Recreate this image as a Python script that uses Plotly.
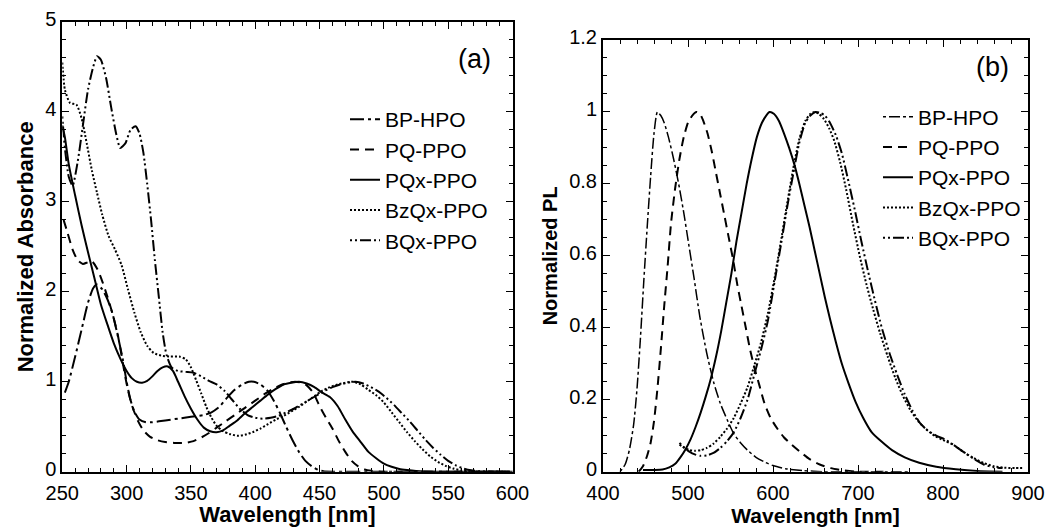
import plotly.graph_objects as go

# ---------------- Panel (a): absorbance ----------------
names = ["BP-HPO", "PQ-PPO", "PQx-PPO", "BzQx-PPO", "BQx-PPO"]

bp_a_x = [252, 255, 260, 265, 270, 274, 277, 281, 285, 289, 293, 297, 300, 303, 306, 310, 315, 320, 330, 340,
          350, 360, 366, 372, 378, 384, 390, 395, 399, 404, 409, 414, 419, 424, 429, 434, 439, 444, 449, 453,
          460, 500, 600]
bp_a_y = [0.88, 1.0, 1.28, 1.58, 1.88, 2.04, 2.08, 2.03, 1.92, 1.76, 1.52, 1.25, 1.0, 0.8, 0.67, 0.58, 0.55,
          0.55, 0.57, 0.59, 0.61, 0.63, 0.66, 0.72, 0.82, 0.91, 0.97, 1.0, 1.0, 0.97, 0.91, 0.8, 0.66, 0.5,
          0.35, 0.22, 0.12, 0.06, 0.02, 0.005, 0.0, 0.0, 0.0]

pq_a_x = [251, 254, 258, 262, 266, 270, 273, 277, 281, 285, 289, 293, 296, 299, 302, 305, 309, 313, 318, 324,
          330, 337, 345, 352, 358, 364, 370, 377, 384, 392, 400, 408, 415, 421, 426, 431, 436, 440, 445, 450,
          455, 460, 465, 470, 475, 480, 485, 490, 500, 550, 600]
pq_a_y = [2.8, 2.66, 2.47, 2.35, 2.31, 2.33, 2.34, 2.26, 2.12, 1.95, 1.76, 1.53, 1.3, 1.05, 0.85, 0.7, 0.56,
          0.46, 0.39, 0.35, 0.33, 0.32, 0.32, 0.34, 0.38, 0.43, 0.49, 0.56, 0.63, 0.71, 0.79, 0.87, 0.93, 0.97,
          0.99, 1.0, 0.99, 0.96, 0.88, 0.73, 0.6, 0.48, 0.34, 0.22, 0.12, 0.06, 0.025, 0.01, 0.0, 0.0, 0.0]

pqx_a_x = [250, 252, 255, 260, 265, 270, 275, 280, 285, 290, 295, 300, 304, 308, 312, 316, 320, 324, 328, 332,
           336, 340, 345, 350, 355, 360, 365, 370, 375, 380, 386, 392, 398, 404, 410, 416, 422, 428, 434, 440,
           446, 452, 458, 464, 470, 476, 482, 488, 494, 500, 506, 512, 518, 525, 540, 600]
pqx_a_y = [3.85, 3.72, 3.42, 3.07, 2.74, 2.44, 2.15, 1.86, 1.64, 1.43, 1.26, 1.12, 1.04, 1.0, 0.99, 1.01, 1.06,
           1.12, 1.16, 1.17, 1.12, 1.0, 0.84, 0.7, 0.58, 0.49, 0.45, 0.44, 0.46, 0.51, 0.57, 0.65, 0.72, 0.79,
           0.86, 0.92, 0.97, 0.99, 1.0, 0.98, 0.94, 0.88, 0.83, 0.73, 0.58, 0.44, 0.33, 0.22, 0.15, 0.09, 0.055,
           0.03, 0.018, 0.008, 0.0, 0.0]

bzqx_a_x = [250, 252, 256, 261, 265, 269, 273, 277, 281, 286, 291, 296, 301, 306, 311, 316, 321, 327, 334, 341,
            346, 350, 354, 358, 362, 366, 370, 375, 380, 386, 392, 398, 404, 410, 416, 422, 428, 434, 440, 446,
            452, 458, 464, 470, 476, 482, 488, 494, 500, 506, 512, 518, 524, 530, 536, 542, 548, 554, 560, 566,
            575, 600]
bzqx_a_y = [4.55, 4.25, 4.1, 4.08, 3.93, 3.65, 3.35, 3.1, 2.86, 2.62, 2.47, 2.3, 2.03, 1.77, 1.55, 1.4, 1.32,
            1.29, 1.28, 1.28, 1.25, 1.16, 1.02, 0.87, 0.72, 0.6, 0.51, 0.45, 0.42, 0.4, 0.41, 0.44, 0.48, 0.53,
            0.58, 0.62, 0.67, 0.72, 0.78, 0.84, 0.9, 0.94, 0.97, 0.99, 1.0, 0.97, 0.91, 0.85, 0.77, 0.66, 0.55,
            0.44, 0.34, 0.25, 0.17, 0.11, 0.065, 0.035, 0.015, 0.005, 0.0, 0.0]

bqx_a_x = [250, 252, 255, 258, 262, 266, 270, 274, 277, 280, 284, 288, 292, 295, 299, 303, 307, 310, 313, 316,
           319, 322, 325, 328, 331, 335, 340, 346, 352, 358, 364, 370, 376, 382, 388, 394, 400, 406, 412, 418,
           424, 430, 436, 442, 448, 454, 460, 466, 472, 478, 484, 490, 496, 502, 508, 514, 520, 526, 532, 538,
           544, 550, 556, 562, 568, 575, 600]
bqx_a_y = [3.95, 3.6, 3.28, 3.18, 3.45, 3.85, 4.25, 4.5, 4.62, 4.58, 4.38, 4.05, 3.75, 3.6, 3.65, 3.8, 3.84,
           3.76, 3.55, 3.2, 2.8, 2.35, 1.95, 1.55, 1.3, 1.16, 1.12, 1.11, 1.1, 1.06, 1.01, 0.97, 0.9, 0.8, 0.7,
           0.63, 0.6, 0.59, 0.6, 0.62, 0.66, 0.7, 0.75, 0.8, 0.85, 0.9, 0.94, 0.97, 0.99, 1.0, 0.98, 0.94, 0.89,
           0.82, 0.74, 0.65, 0.56, 0.46, 0.36, 0.27, 0.19, 0.12, 0.07, 0.035, 0.015, 0.005, 0.0]

# ---------------- Panel (b): photoluminescence ----------------
bp_b_x = [420, 426, 431, 436, 440, 444, 448, 452, 456, 460, 464, 468, 472, 477, 483, 489, 495, 501, 507, 514,
          522, 530, 538, 546, 554, 562, 570, 580, 590, 600, 615, 635, 660, 700, 760]
bp_b_y = [0.0, 0.02, 0.06, 0.13, 0.23, 0.37, 0.53, 0.68, 0.82, 0.94, 1.0, 0.99, 0.97, 0.93, 0.87, 0.8, 0.72,
          0.63, 0.54, 0.43, 0.33, 0.25, 0.19, 0.145, 0.105, 0.08, 0.06, 0.04, 0.027, 0.017, 0.008, 0.003, 0.0,
          0.0, 0.0]

pq_b_x = [442, 447, 452, 456, 460, 464, 468, 472, 476, 480, 485, 490, 495, 500, 505, 510, 514, 518, 523, 528,
          533, 538, 543, 548, 553, 558, 563, 568, 573, 578, 584, 590, 597, 605, 613, 622, 632, 643, 655, 668,
          682, 700, 730]
pq_b_y = [0.0, 0.015, 0.045, 0.08, 0.14, 0.23, 0.34, 0.46, 0.57, 0.69, 0.79, 0.87, 0.93, 0.97, 0.99, 1.0, 0.995,
          0.975, 0.94, 0.89, 0.83, 0.77, 0.71, 0.65, 0.59, 0.52, 0.46, 0.4, 0.34, 0.29, 0.24, 0.19, 0.15, 0.12,
          0.095, 0.075, 0.055, 0.035, 0.02, 0.01, 0.004, 0.0, 0.0]

pqx_b_x = [447, 460, 470, 478, 485, 491, 497, 503, 509, 515, 521, 527, 533, 539, 545, 551, 557, 563, 569, 575,
           581, 587, 592, 596, 601, 607, 613, 619, 625, 631, 637, 643, 649, 655, 661, 667, 674, 681, 689, 697,
           706, 716, 727, 740, 755, 772, 792, 815, 840, 870]
pqx_b_y = [0.005, 0.005, 0.006, 0.012, 0.022, 0.04, 0.062, 0.09, 0.125, 0.165, 0.21, 0.26, 0.32, 0.39, 0.47,
           0.55, 0.64, 0.72, 0.8, 0.87, 0.93, 0.97, 0.99, 1.0, 0.995, 0.975, 0.94, 0.9, 0.855, 0.8, 0.74, 0.68,
           0.615, 0.55, 0.485, 0.425, 0.36, 0.3, 0.245, 0.195, 0.15, 0.11, 0.085, 0.06, 0.04, 0.025, 0.014,
           0.007, 0.002, 0.0]

bzqx_b_x = [490, 496, 502, 508, 515, 522, 530, 538, 546, 554, 562, 570, 578, 586, 594, 602, 610, 617, 624, 631,
            638, 644, 649, 654, 660, 666, 672, 679, 686, 694, 702, 710, 718, 726, 735, 744, 753, 762, 771, 780,
            790, 800, 812, 824, 836, 848, 860, 872, 885, 895]
bzqx_b_y = [0.075, 0.066, 0.06, 0.058, 0.06, 0.066, 0.078, 0.097, 0.12, 0.15, 0.19, 0.235, 0.295, 0.36, 0.44,
            0.54, 0.65, 0.75, 0.845, 0.925, 0.975, 0.995, 1.0, 0.995, 0.98, 0.955, 0.92, 0.86, 0.785, 0.69, 0.6,
            0.52, 0.45, 0.385, 0.32, 0.26, 0.21, 0.17, 0.14, 0.118, 0.1, 0.088, 0.075, 0.055, 0.038, 0.024,
            0.015, 0.011, 0.01, 0.01]

bqx_b_x = [490, 496, 502, 508, 515, 522, 530, 538, 546, 554, 562, 570, 578, 586, 594, 602, 610, 617, 624, 631,
           638, 644, 650, 655, 661, 667, 674, 681, 688, 696, 704, 712, 720, 728, 737, 746, 755, 764, 773, 782,
           792, 802, 812, 824, 836, 848, 860, 870]
bqx_b_y = [0.08, 0.066, 0.055, 0.048, 0.044, 0.045, 0.052, 0.066, 0.085, 0.11, 0.15, 0.2, 0.27, 0.34, 0.42,
           0.53, 0.64, 0.74, 0.83, 0.915, 0.97, 0.99, 1.0, 0.998, 0.99, 0.97, 0.935, 0.885, 0.815, 0.73, 0.64,
           0.555, 0.475, 0.4, 0.33, 0.27, 0.215, 0.17, 0.135, 0.115, 0.1, 0.09, 0.075, 0.055, 0.036, 0.02,
           0.012, 0.01]

# ---------------- styles ----------------
dash_a = ["14px,4px,3px,4px", "9px,6px", "solid", "2px,2px", "2px,3px,2px,3px,11px,3px"]
dash_b = ["3px,3px,11px,3px", "9px,6px", "solid", "2px,2px", "2px,3px,2px,3px,11px,3px"]
width_a = [2, 2, 2, 2, 2]
width_b = [1.5, 2, 2, 2, 2]

FONT = "Liberation Sans, Arial, Helvetica, sans-serif"

# figure is drawn inside the page's 8px body margin
W, H = 1047, 519
def px(v):
    return (v - 8) / W
def py(v):
    return 1 - (v - 8) / H

data_a = [(bp_a_x, bp_a_y), (pq_a_x, pq_a_y), (pqx_a_x, pqx_a_y), (bzqx_a_x, bzqx_a_y), (bqx_a_x, bqx_a_y)]
data_b = [(bp_b_x, bp_b_y), (pq_b_x, pq_b_y), (pqx_b_x, pqx_b_y), (bzqx_b_x, bzqx_b_y), (bqx_b_x, bqx_b_y)]

fig = go.Figure()
for i, (nm, (xs, ys)) in enumerate(zip(names, data_a)):
    fig.add_trace(go.Scatter(x=xs, y=ys, name=nm, mode="lines", xaxis="x", yaxis="y",
                             line=dict(color="black", width=width_a[i], dash=dash_a[i], shape="spline", smoothing=0.6),
                             legend="legend"))
for i, (nm, (xs, ys)) in enumerate(zip(names, data_b)):
    fig.add_trace(go.Scatter(x=xs, y=ys, name=nm, mode="lines", xaxis="x2", yaxis="y2",
                             line=dict(color="black", width=width_b[i], dash=dash_b[i], shape="spline", smoothing=0.6),
                             legend="legend2"))

def axis_style(**kw):
    d = dict(showline=True, linecolor="black", linewidth=2, mirror="allticks",
             ticks="inside", ticklen=7, tickwidth=1, tickcolor="black",
             showgrid=False, zeroline=False, automargin=False, ticklabeloverflow="allow",
             tickfont=dict(family=FONT, size=20, color="black"),
             minor=dict(ticks="inside", ticklen=4, tickwidth=1, tickcolor="black", showgrid=False))
    d.update(kw)
    return d

title_font = dict(family=FONT, size=22, color="black", weight="bold")

fig.update_layout(
    width=W, height=H,
    margin=dict(l=0, r=0, t=0, b=0),
    paper_bgcolor="white", plot_bgcolor="white",
    showlegend=True,
    xaxis=axis_style(domain=[px(62.3), px(512.5)], range=[250, 600], dtick=50, tick0=250,
                     minor_dtick=10, anchor="y", ticklabelstandoff=2,
                     title=dict(text="Wavelength [nm]", font=title_font, standoff=1)),
    yaxis=axis_style(domain=[py(471.7), py(22)], range=[0, 5], dtick=1, minor_dtick=0.2, anchor="x",
                     ticklabelshift=-3,
                     title=dict(text="Normalized Absorbance", font=title_font, standoff=5)),
    xaxis2=axis_style(domain=[px(603), px(1028)], range=[400, 900], dtick=100, tick0=400,
                      minor_dtick=20, anchor="y2", ticklabelstandoff=2,
                      title=dict(text="Wavelength [nm]", font=dict(family=FONT, size=21, color="black", weight="bold"), standoff=1)),
    yaxis2=axis_style(domain=[py(471.7), py(40)], range=[0, 1.2], dtick=0.2, minor_dtick=0.05, anchor="x2",
                      ticklabelshift=-3,
                      title=dict(text="Normalized PL", font=dict(family=FONT, size=20, color="black", weight="bold"), standoff=6)),
    legend=dict(x=px(345), y=py(99), xanchor="left", yanchor="top",
                font=dict(family=FONT, size=21, color="black"), bgcolor="rgba(0,0,0,0)",
                itemwidth=30),
    legend2=dict(x=px(878), y=py(96.5), xanchor="left", yanchor="top",
                 font=dict(family=FONT, size=21, color="black"), bgcolor="rgba(0,0,0,0)",
                 itemwidth=30),
    annotations=[
        dict(text="(a)", x=px(474), y=py(59), xref="paper", yref="paper", xanchor="center", yanchor="middle",
             showarrow=False, font=dict(family=FONT, size=27, color="black")),
        dict(text="(b)", x=px(992), y=py(67), xref="paper", yref="paper", xanchor="center", yanchor="middle",
             showarrow=False, font=dict(family=FONT, size=27, color="black")),
    ],
)

fig.write_html("out.html")
